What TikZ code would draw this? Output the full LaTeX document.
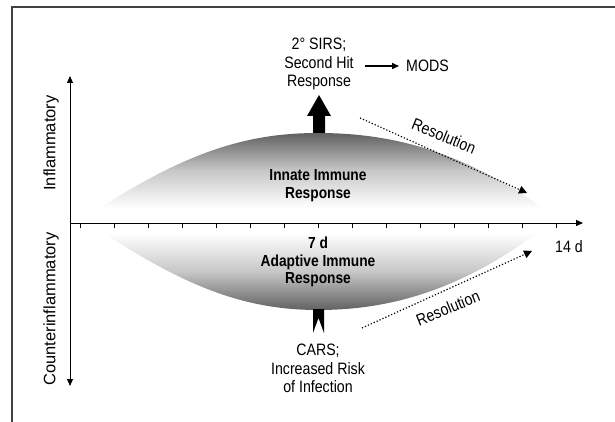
\documentclass[tikz,border=0pt]{standalone}
\usepackage{fontspec}
\setmainfont{Liberation Sans}[FakeStretch=0.86]
\newfontfamily\axisfont{Liberation Sans}
\usetikzlibrary{arrows.meta}
\begin{document}
\begin{tikzpicture}[x=1pt,y=-1pt,
  lbl/.style={font=\fontsize{16.5}{18.5}\selectfont, align=center, inner sep=0pt},
  blbl/.style={lbl, font=\fontsize{16}{17.5}\selectfont\bfseries},
  axlbl/.style={font=\axisfont\fontsize{16.5}{18}\selectfont, inner sep=0pt, rotate=90},
  axisline/.style={line width=1pt},
  tip/.style={-{Triangle[length=7pt,width=6pt]}},
  dotarrow/.style={line width=1.2pt, dotted, -{Triangle[length=8pt,width=8pt]}},
  frameline/.style={line width=1.4pt, draw=black!75}]
\useasboundingbox (0,0) rectangle (615,422);
% frame
\draw[frameline] (12,422) -- (12,7) -- (615,7);
% thick upward arrow (behind the shape)
\fill[black] (313,134) -- (313,116) -- (307,116) -- (319,95) -- (331,116) -- (325,116) -- (325,134) -- cycle;
% upper shape
\shade[top color=black!62, bottom color=white, middle color=black!22]
  (100,208) .. controls (190,150) and (250,133) .. (318,133)
  .. controls (390,133) and (460,150) .. (543,208) -- cycle;
% lower shape
\shade[top color=white, bottom color=black!62, middle color=black!22]
  (104,233) .. controls (190,290) and (250,310) .. (318,310)
  .. controls (390,310) and (460,290) .. (537,233) -- cycle;
% lower notched arrow
\fill[black] (313,309) -- (324,309) -- (324,333) -- (318.5,318) -- (313,333) -- cycle;
% axes
\coordinate (ytop) at (70,76);
\coordinate (ybot) at (70,386);
\coordinate (xorig) at (70,223);
\coordinate (xend) at (583,223);
\draw[axisline, {Triangle[length=7pt,width=6pt]}-{Triangle[length=7pt,width=6pt]}] (ytop) -- (ybot);
\draw[axisline, tip] (xorig) -- (xend);
\foreach \i in {0,...,14} \draw[line width=1pt] (80.5+34*\i,223) -- ++(0,5);
% axis labels
\node[axlbl] (infl) at (51,143) {Inflammatory};
\node[axlbl] (counter) at (51,309) {Counterinflammatory};
% texts
\node[lbl] (sirs) at (319,64) {2° SIRS;\\Second Hit\\Response};
\node[lbl, anchor=west] (mods) at (406,66) {MODS};
\coordinate (modsarr) at (365,66);
\draw[line width=1.5pt, tip, shorten >=7pt] (modsarr) -- (mods.west);
\node[blbl] (innate) at (318,185.5) {Innate Immune\\Response};
\node[blbl] (adaptive) at (318,262) {7 d\\Adaptive Immune\\Response};
\node[lbl] (day14) at (569,247) {14 d};
\node[lbl] (cars) at (318,368.5) {CARS;\\Increased Risk\\of Infection};
% resolution arrows
\coordinate (r1s) at (360,118);
\coordinate (r1e) at (527,193);
\draw[dotarrow] (r1s) -- (r1e);
\node[lbl, rotate=-22] (res1) at (444,136) {Resolution};
\coordinate (r2s) at (362,328);
\coordinate (r2e) at (532,251);
\draw[dotarrow] (r2s) -- (r2e);
\node[lbl, rotate=22] (res2) at (448,308) {Resolution};
\end{tikzpicture}
\end{document}
